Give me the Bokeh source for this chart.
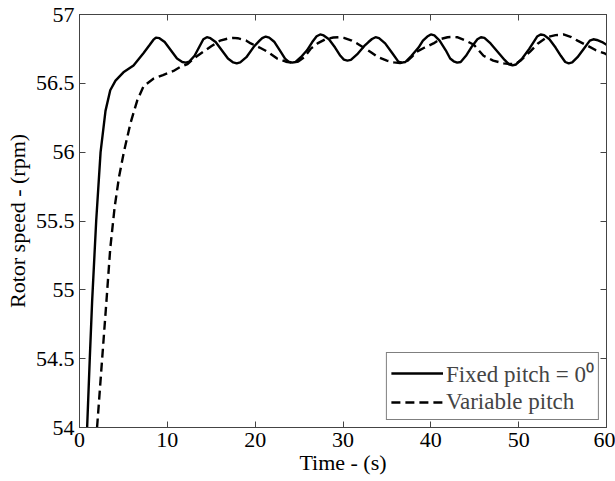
from bokeh.plotting import figure
from bokeh.models import (Range1d, LinearAxis, FixedTicker, Legend, LegendItem,
                          CustomLabelingPolicy)
from bokeh.embed import file_html
from bokeh.resources import INLINE

# ---- data ----
fixed_t = [0.87, 1.17, 1.44, 1.9, 2.4, 2.96, 3.5, 4.1, 5.0, 6.15, 7.3, 8.0, 8.4,
           8.7, 9.1, 9.7, 10.4, 11.1, 11.7, 12.1, 12.5, 13.1, 13.6, 14.1, 14.5, 14.9,
           15.5, 16.2, 16.9, 17.5, 17.9, 18.3, 19.0, 19.9, 20.5, 20.8, 21.2, 21.6,
           22.2, 22.9, 23.4, 23.8, 24.2, 24.6, 25.2, 25.9, 26.5, 27.0, 27.4, 27.8,
           28.4, 29.1, 29.7, 30.1, 30.5, 30.9, 31.6, 32.4, 32.9, 33.3, 33.7, 34.1,
           34.8, 35.6, 36.3, 36.7, 37.1, 37.8, 38.6, 39.1, 39.6, 40.0, 40.4, 41.0,
           41.7, 42.2, 42.6, 43.0, 43.4, 44.0, 44.7, 45.3, 45.7, 46.1, 46.8, 47.6,
           48.4, 48.9, 49.3, 49.7, 50.4, 51.2, 51.7, 52.1, 52.5, 52.9, 53.5, 54.2,
           54.8, 55.3, 55.7, 56.1, 56.7, 57.4, 58.1, 58.5, 58.9, 59.5, 60.0]
fixed_rpm = [54.00, 54.50, 54.92, 55.50, 56.00, 56.30, 56.45, 56.52, 56.58, 56.63,
             56.72, 56.78, 56.815, 56.832, 56.828, 56.80, 56.74, 56.68, 56.655,
             56.65, 56.658, 56.70, 56.76, 56.82, 56.835, 56.828, 56.80, 56.74, 56.68,
             56.652, 56.645, 56.652, 56.69, 56.77, 56.81, 56.828, 56.84, 56.832, 56.80,
             56.73, 56.68, 56.658, 56.65, 56.655, 56.69, 56.74, 56.80, 56.842, 56.855,
             56.848, 56.82, 56.76, 56.70, 56.672, 56.665, 56.67, 56.71, 56.77, 56.80,
             56.822, 56.835, 56.828, 56.79, 56.72, 56.658, 56.65, 56.655, 56.70, 56.76,
             56.81, 56.84, 56.855, 56.848, 56.81, 56.74, 56.68, 56.66, 56.65, 56.655,
             56.70, 56.77, 56.82, 56.835, 56.83, 56.79, 56.73, 56.67, 56.638, 56.63,
             56.637, 56.68, 56.75, 56.80, 56.84, 56.855, 56.85, 56.82, 56.76, 56.70,
             56.655, 56.645, 56.652, 56.69, 56.75, 56.81, 56.82, 56.815, 56.80, 56.78]

var_t = [2.0, 2.58, 3.07, 3.5, 4.0, 4.5, 5.05, 5.8, 6.57, 7.3, 8.45, 9.5, 10.7, 11.5,
         12.3, 13.2, 14.1, 15.0, 16.0, 17.0, 17.5, 18.0, 19.0, 19.5, 20.5, 21.4, 22.5,
         23.5, 24.2, 24.9, 25.6, 26.3, 27.1, 28.0, 28.9, 29.5, 30.1, 31.0, 31.6, 33.1,
         34.0, 35.0, 35.8, 36.5, 37.2, 37.8, 38.4, 39.3, 40.3, 41.0, 41.9, 42.5, 43.0,
         44.0, 44.9, 46.0, 47.1, 48.3, 49.0, 49.7, 50.3, 51.3, 52.2, 53.2, 54.2, 55.1,
         56.0, 56.7, 57.8, 58.8, 59.7, 60.0]
var_rpm = [54.00, 54.50, 54.92, 55.30, 55.60, 55.82, 56.00, 56.21, 56.375, 56.48,
           56.535, 56.56, 56.59, 56.62, 56.64, 56.69, 56.73, 56.77, 56.81, 56.827,
           56.83, 56.828, 56.81, 56.79, 56.76, 56.73, 56.68, 56.657, 56.65, 56.658,
           56.69, 56.75, 56.79, 56.82, 56.833, 56.835, 56.83, 56.81, 56.79, 56.73,
           56.69, 56.665, 56.652, 56.648, 56.655, 56.69, 56.73, 56.76, 56.79, 56.82,
           56.835, 56.837, 56.835, 56.81, 56.78, 56.70, 56.665, 56.645, 56.64, 56.642,
           56.67, 56.73, 56.79, 56.835, 56.85, 56.855, 56.835, 56.81, 56.775, 56.74,
           56.72, 56.71]

x_ticks = [0, 10, 20, 30, 40, 50, 60]
y_ticks = [54, 54.5, 55, 55.5, 56, 56.5, 57]
y_tick_labels = {54: "54", 54.5: "54.5", 55: "55", 55.5: "55.5", 56: "56", 56.5: "56.5", 57: "57"}
label_fixed = "Fixed pitch = 0\u2070"
label_var = "Variable pitch"
x_label = "Time - (s)"
y_label = "Rotor speed - (rpm)"

FONT = "Liberation Serif"
FS = "22px"
FRAME = "#444444"

p = figure(width=615, height=481, x_range=Range1d(0, 60), y_range=Range1d(54, 57),
           output_backend="svg", toolbar_location=None,
           min_border_left=79, min_border_top=14, min_border_right=9, min_border_bottom=54)
p.grid.visible = False
p.outline_line_color = FRAME
p.background_fill_color = "white"
p.border_fill_color = "white"

r1 = p.line(fixed_t, fixed_rpm, line_color="black", line_width=2.4)
r2 = p.line(var_t, var_rpm, line_color="black", line_width=2.4, line_dash="9 5")

hide_all = CustomLabelingPolicy(code="for (const i of indices) indices.unset(i); return indices;")

def style(ax, show_labels=True):
    ax.major_tick_in = 6
    ax.major_tick_out = 0
    ax.minor_tick_line_color = None
    ax.axis_line_color = FRAME
    ax.major_tick_line_color = FRAME
    ax.major_label_text_font = FONT
    ax.major_label_text_color = "black"
    ax.axis_label_text_font = FONT
    ax.axis_label_text_font_style = "normal"
    ax.axis_label_text_font_size = FS
    ax.axis_label_text_color = "black"
    if show_labels:
        ax.major_label_text_font_size = FS
    else:
        ax.major_label_text_font_size = "1px"
        ax.major_label_standoff = 0
        ax.major_label_policy = hide_all

xa = p.xaxis[0]
style(xa)
xa.ticker = FixedTicker(ticks=x_ticks)
xa.axis_label = x_label
xa.major_label_standoff = 5
xa.axis_label_standoff = 0

ya = p.yaxis[0]
style(ya)
ya.ticker = FixedTicker(ticks=y_ticks)
ya.major_label_overrides = y_tick_labels
ya.axis_label = y_label
ya.major_label_standoff = 5
ya.axis_label_standoff = 3

top = LinearAxis(ticker=FixedTicker(ticks=x_ticks))
style(top, False)
p.add_layout(top, "above")
right = LinearAxis(ticker=FixedTicker(ticks=y_ticks))
style(right, False)
p.add_layout(right, "right")

legend = Legend(items=[LegendItem(label=label_fixed, renderers=[r1]),
                       LegendItem(label=label_var, renderers=[r2])],
                location="bottom_right")
legend.label_text_font = FONT
legend.label_text_font_size = "23px"
legend.border_line_color = "black"
legend.border_line_width = 1
legend.glyph_width = 52
legend.glyph_height = 24
legend.label_height = 24
legend.label_standoff = 3
legend.padding = 4
legend.spacing = 0
legend.margin = 7
p.add_layout(legend)

open("out.html", "w").write(file_html(p, INLINE))
